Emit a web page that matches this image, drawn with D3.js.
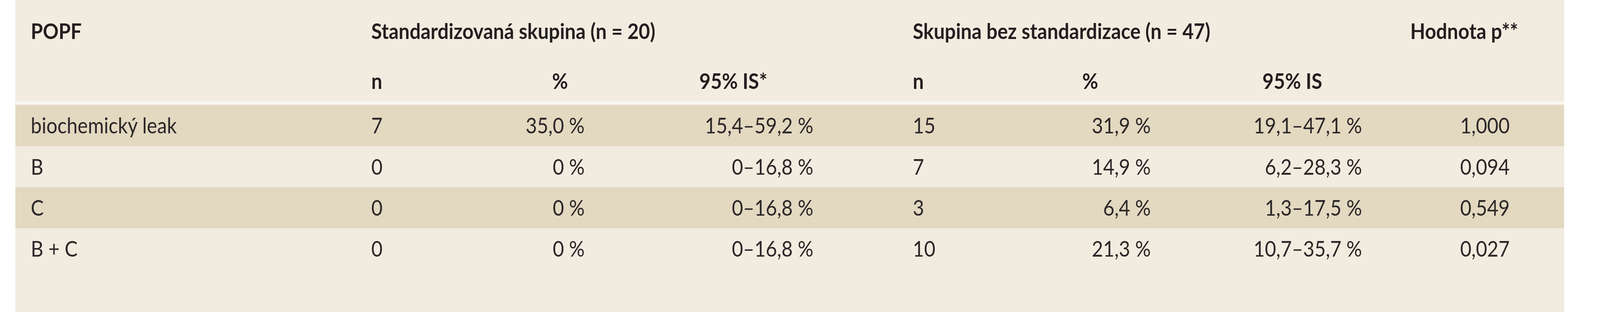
<!DOCTYPE html>
<html><head><meta charset="utf-8">
<script src="https://cdn.jsdelivr.net/npm/d3@7"></script>
<style>html,body{margin:0;background:#fff;overflow:hidden}svg{display:block}</style>
</head><body><svg viewBox="0 0 1560 270" preserveAspectRatio="none" style="width:100vw;height:100vh"></svg>
<script>
const categories = ['biochemický leak', 'B', 'C', 'B + C'];
const stdN = ['7', '0', '0', '0'];
const stdPct = ['35,0 %', '0 %', '0 %', '0 %'];
const stdCI = ['15,4–59,2 %', '0–16,8 %', '0–16,8 %', '0–16,8 %'];
const nonN = ['15', '7', '3', '10'];
const nonPct = ['31,9 %', '14,9 %', '6,4 %', '21,3 %'];
const nonCI = ['19,1–47,1 %', '6,2–28,3 %', '1,3–17,5 %', '10,7–35,7 %'];
const pValues = ['1,000', '0,094', '0,549', '0,027'];
const groupHeaders = ['POPF', 'Standardizovaná skupina (n = 20)', 'Skupina bez standardizace (n = 47)', 'Hodnota p**'];
const subHeaders = ['n', '%', '95% IS*', 'n', '%', '95% IS'];

const font = "'Liberation Sans Narrow', Lato, sans-serif";
const fs = 19;
const svg = d3.select('svg');

const y = d3.scaleBand().domain(d3.range(categories.length)).range([91, 233]);

svg.append('rect').attr('x', 15).attr('y', 0).attr('width', 1510).attr('height', 270).attr('fill', '#f2ece0');

svg.selectAll('rect.band').data(categories).enter().append('rect')
  .attr('class', 'band')
  .attr('x', 15).attr('width', 1510)
  .attr('y', (d, i) => y(i)).attr('height', y.bandwidth())
  .attr('fill', (d, i) => i % 2 === 0 ? '#e3d8c0' : '#f2ece0');

svg.append('line').attr('x1', 15).attr('x2', 1525).attr('y1', 89).attr('y2', 89)
  .attr('stroke', '#fbf8f2').attr('stroke-width', 2);

// header rows
const hx = [30, 362, 890, 1375];
svg.selectAll('text.gh').data(groupHeaders).enter().append('text')
  .attr('x', (d, i) => hx[i]).attr('y', 27).attr('dy', '0.36em')
  .attr('font-family', font).attr('font-size', fs).attr('font-weight', 'bold')
  .attr('fill', '#231f20').text(d => d);

const sx = [362, 546, 715, 890, 1063, 1260];
const sa = ['start', 'middle', 'middle', 'start', 'middle', 'middle'];
svg.selectAll('text.sh').data(subHeaders).enter().append('text')
  .attr('x', (d, i) => sx[i]).attr('y', 70).attr('dy', '0.36em')
  .attr('text-anchor', (d, i) => sa[i])
  .attr('font-family', font).attr('font-size', fs).attr('font-weight', 'bold')
  .attr('fill', '#231f20').text(d => d);

// body columns
const columns = [
  {vals: categories, x: 30, anchor: 'start'},
  {vals: stdN, x: 362, anchor: 'start'},
  {vals: stdPct, x: 570, anchor: 'end'},
  {vals: stdCI, x: 793, anchor: 'end'},
  {vals: nonN, x: 890, anchor: 'start'},
  {vals: nonPct, x: 1122, anchor: 'end'},
  {vals: nonCI, x: 1328, anchor: 'end'},
  {vals: pValues, x: 1472, anchor: 'end'}
];
columns.forEach(c => {
  svg.append('g').selectAll('text').data(c.vals).enter().append('text')
    .attr('x', c.x)
    .attr('y', (d, i) => y(i) + y.bandwidth() / 2)
    .attr('dy', '0.36em')
    .attr('text-anchor', c.anchor)
    .attr('font-family', font).attr('font-size', fs)
    .attr('fill', '#2b2728').text(d => d);
});
</script></body></html>
